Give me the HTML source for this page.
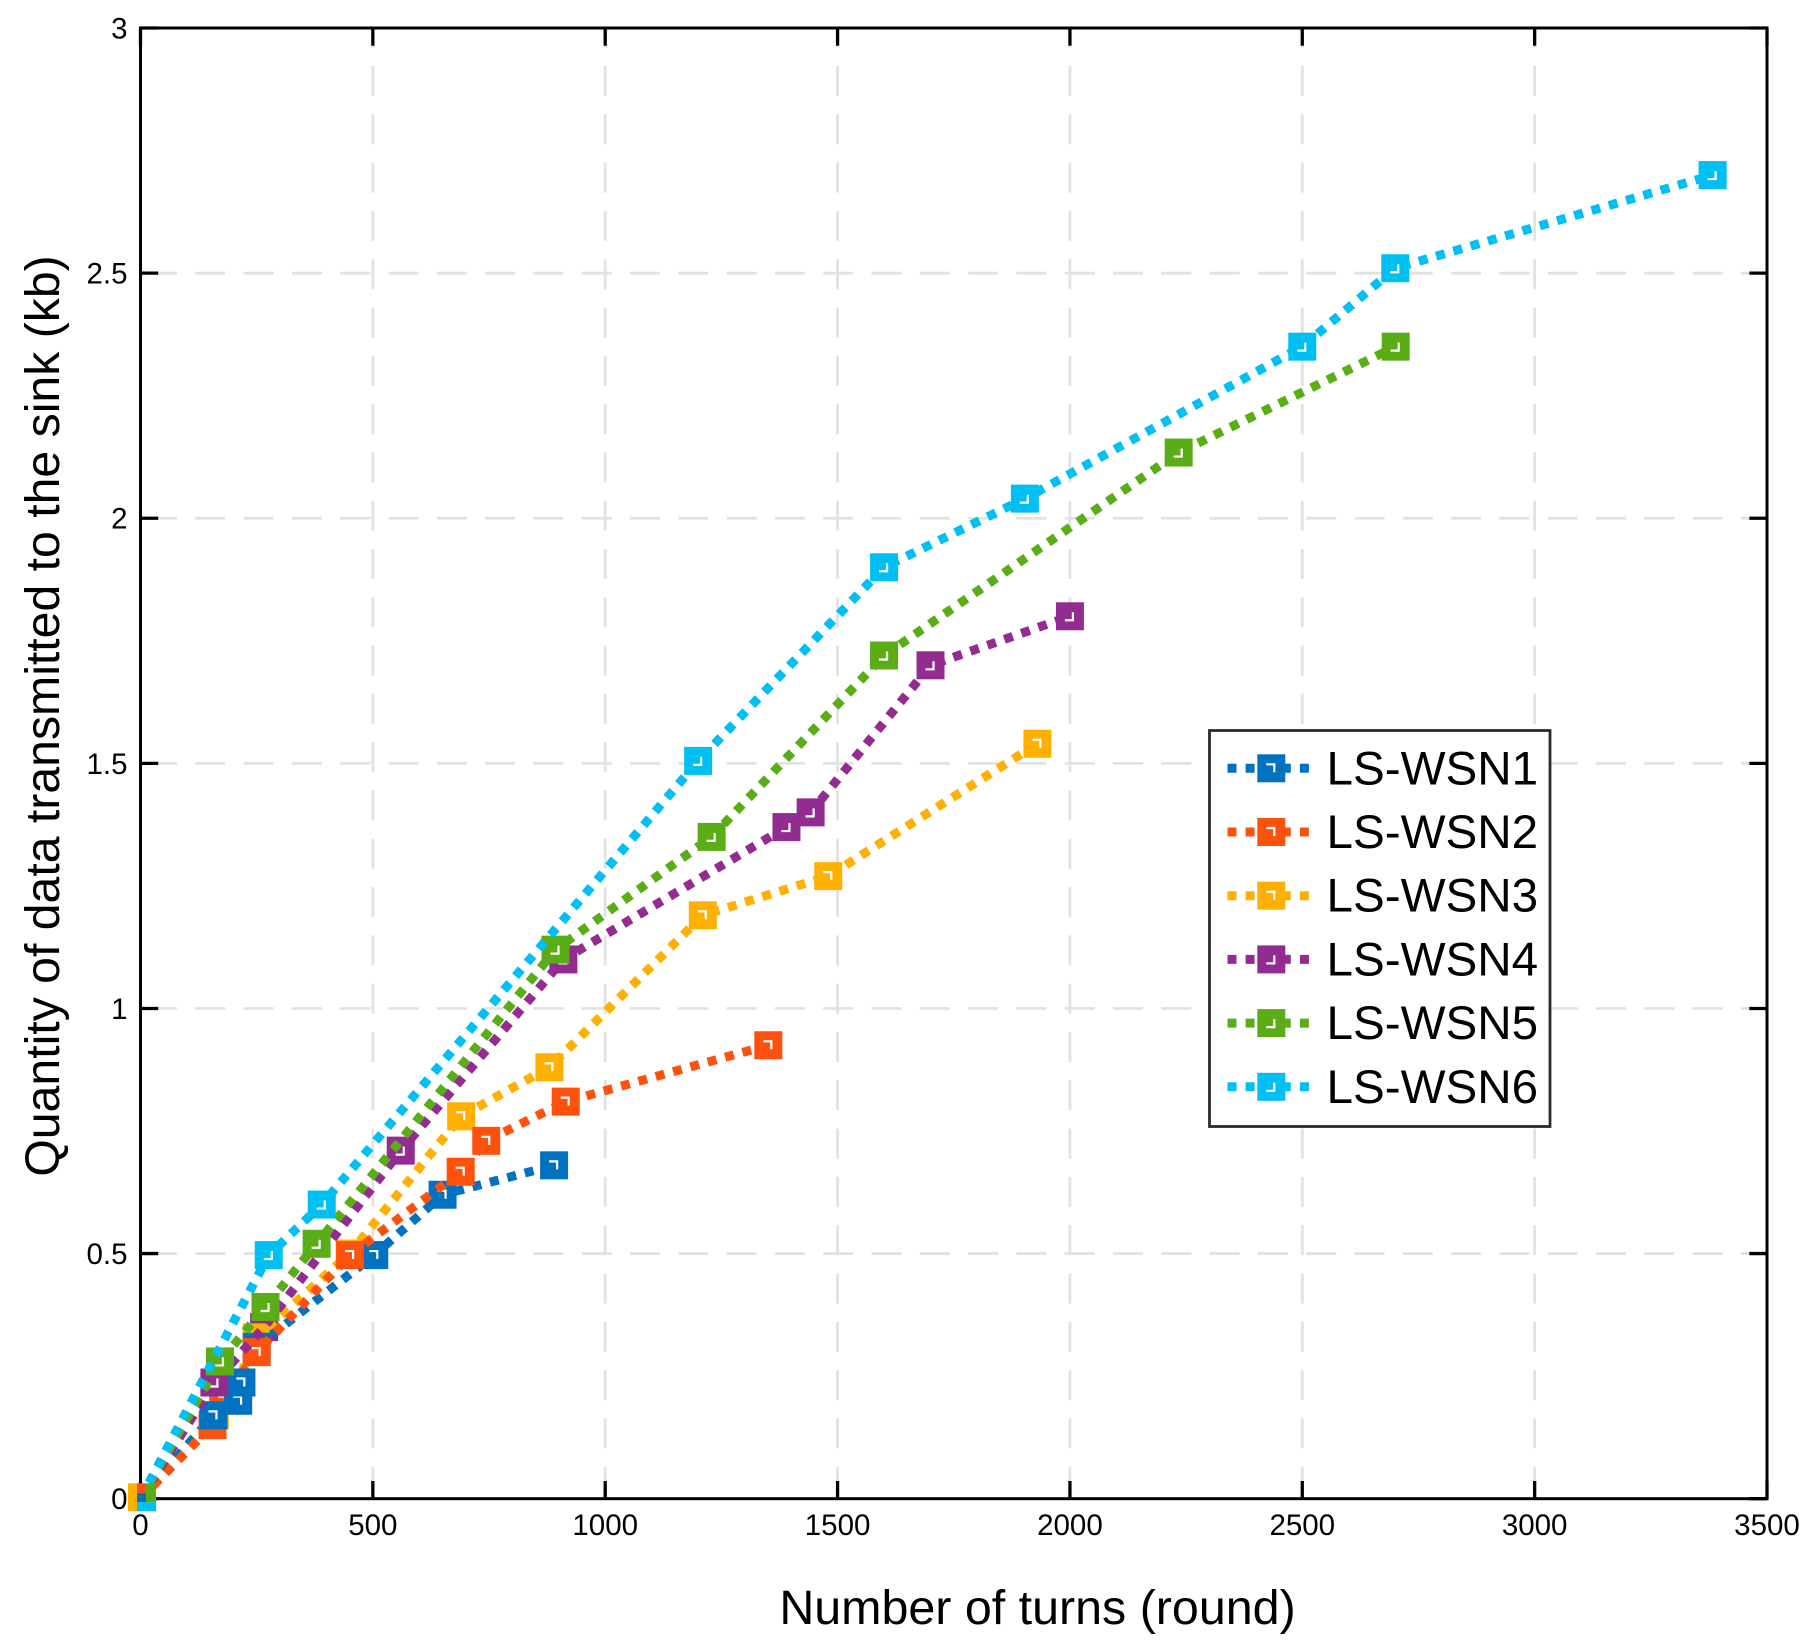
<!DOCTYPE html>
<html lang="en">
<head>
<meta charset="utf-8">
<title>Quantity of data transmitted to the sink</title>
<style>
html,body{margin:0;padding:0;background:#fff;}
svg{display:block;font-family:"Liberation Sans",Arial,sans-serif;}
</style>
</head>
<body>
<svg id="chart" xmlns="http://www.w3.org/2000/svg" width="1809" height="1650" viewBox="0 0 1809 1650">
  <rect x="0" y="0" width="1809" height="1650" fill="#ffffff"/>
  <g id="grid"></g>
  <g id="axes"></g>
  <g id="series"></g>
  <g id="legend"></g>
  <text x="1037.5" y="1624" font-size="48.4" text-anchor="middle" fill="#000">Number of turns (round)</text>
  <text transform="translate(59,716) rotate(-90)" font-size="48.2" text-anchor="middle" fill="#000">Quantity of data transmitted to the sink (kb)</text>
</svg>
<script>
var xTicks = [0, 500, 1000, 1500, 2000, 2500, 3000, 3500];
var yTicks = [0, 0.5, 1, 1.5, 2, 2.5, 3];
var seriesNames = ['LS-WSN1', 'LS-WSN2', 'LS-WSN3', 'LS-WSN4', 'LS-WSN5', 'LS-WSN6'];
var seriesColors = ['#0072bf', '#fd520e', '#ffb000', '#922c90', '#5bad18', '#00bff2'];

var wsn1X = [0, 157, 210, 217, 250, 503, 650, 890];
var wsn1Y = [0, 0.17, 0.2, 0.237, 0.31, 0.497, 0.62, 0.68];
var wsn2X = [0, 155, 178, 250, 451, 689, 744, 915, 1351];
var wsn2Y = [0, 0.15, 0.2, 0.299, 0.497, 0.667, 0.73, 0.81, 0.925];
var wsn3X = [0, 160, 200, 250, 450, 690, 880, 1210, 1480, 1930];
var wsn3Y = [0, 0.17, 0.22, 0.329, 0.5, 0.78, 0.88, 1.19, 1.27, 1.54];
var wsn4X = [0, 159, 266, 560, 910, 1390, 1442, 1700, 2000];
var wsn4Y = [0, 0.237, 0.35, 0.71, 1.1, 1.37, 1.4, 1.7, 1.8];
var wsn5X = [0, 171, 269, 379, 893, 1229, 1600, 2234, 2701];
var wsn5Y = [0, 0.28, 0.391, 0.52, 1.12, 1.35, 1.72, 2.134, 2.35];
var wsn6X = [0, 276, 390, 1200, 1600, 1903, 2500, 2700, 3383];
var wsn6Y = [0, 0.497, 0.6, 1.505, 1.9, 2.04, 2.35, 2.51, 2.7];

var xSeries = [wsn1X, wsn2X, wsn3X, wsn4X, wsn5X, wsn6X];
var ySeries = [wsn1Y, wsn2Y, wsn3Y, wsn4Y, wsn5Y, wsn6Y];

var NS = 'http://www.w3.org/2000/svg';
var plotLeft = 140.5, plotRight = 1767, plotTop = 28, plotBottom = 1498.7;
var xMax = 3500, yMax = 3;
var markerSize = 28, tickLength = 17.7;

function sx(v) { return plotLeft + v / xMax * (plotRight - plotLeft); }
function sy(v) { return plotBottom - v / yMax * (plotBottom - plotTop); }

function make(tag, attrs, parent) {
  var el = document.createElementNS(NS, tag);
  for (var k in attrs) { el.setAttribute(k, attrs[k]); }
  parent.appendChild(el);
  return el;
}

var gridLayer = document.getElementById('grid');
var axesLayer = document.getElementById('axes');
var seriesLayer = document.getElementById('series');
var legendLayer = document.getElementById('legend');

xTicks.forEach(function (t) {
  if (t === 0 || t === xMax) { return; }
  var line = make('line', {x1: sx(t), x2: sx(t), y1: plotBottom, y2: plotTop, stroke: '#e2e2e2', 'stroke-width': 2.8, 'stroke-dasharray': '30 18.3', 'stroke-dashoffset': -2}, gridLayer);
  
  
});
yTicks.forEach(function (t) {
  if (t === 0 || t === yMax) { return; }
  var line = make('line', {x1: plotLeft, x2: plotRight, y1: sy(t), y2: sy(t), stroke: '#e2e2e2', 'stroke-width': 2.8, 'stroke-dasharray': '30 18.3', 'stroke-dashoffset': -6.5}, gridLayer);
  
  
});

var frame = make('rect', {x: plotLeft, y: plotTop, width: plotRight - plotLeft, height: plotBottom - plotTop, fill: 'none', stroke: '#000', 'stroke-width': 3}, axesLayer);



xTicks.forEach(function (t) {
  var b = make('line', {x1: sx(t), x2: sx(t), y1: plotBottom, y2: plotBottom - tickLength, stroke: '#000', 'stroke-width': 3.3}, axesLayer);
  
  
  var u = make('line', {x1: sx(t), x2: sx(t), y1: plotTop, y2: plotTop + tickLength, stroke: '#000', 'stroke-width': 3.3}, axesLayer);
  
  
  var label = make('text', {x: sx(t), y: 1535, 'font-size': 29.5, 'text-anchor': 'middle', fill: '#000'}, axesLayer);
  label.textContent = String(t);
  
  
});
yTicks.forEach(function (t) {
  var l = make('line', {x1: plotLeft, x2: plotLeft + tickLength, y1: sy(t), y2: sy(t), stroke: '#000', 'stroke-width': 3.3}, axesLayer);
  
  
  var r = make('line', {x1: plotRight, x2: plotRight - tickLength, y1: sy(t), y2: sy(t), stroke: '#000', 'stroke-width': 3.3}, axesLayer);
  
  
  var label = make('text', {x: 127.5, y: sy(t) + 10.5, 'font-size': 29.5, 'text-anchor': 'end', fill: '#000'}, axesLayer);
  label.textContent = String(t);
  
  
});

function drawMarker(cx, cy, color, idx, parent) {
  var s = markerSize;
  var square = make('rect', {x: cx - s / 2, y: cy - s / 2, width: s, height: s, fill: color}, parent);
  
  
  var d = idx < 3
    ? 'M' + (cx - 5) + ' ' + (cy - 4) + 'h8v8'
    : 'M' + (cx - 5) + ' ' + (cy + 4) + 'h8v-8';
  var hole = make('path', {d: d, fill: 'none', stroke: '#fff', 'stroke-width': 2.2}, parent);
  
  
}

function drawLine(i) {
  var pts = xSeries[i].map(function (x, j) { return sx(x) + ',' + sy(ySeries[i][j]); }).join(' ');
  var line = make('polyline', {points: pts, fill: 'none', stroke: seriesColors[i], 'stroke-width': 9, 'stroke-dasharray': '9 9'}, seriesLayer);
  
  
}

function drawPoints(i, from, to) {
  for (var j = from; j <= to && j < xSeries[i].length; j++) {
    if (j === 0) { continue; }
    drawMarker(sx(xSeries[i][j]), sy(ySeries[i][j]), seriesColors[i], i, seriesLayer);
  }
}

/* stacking seen in the crowded low-value cluster */
drawPoints(3, 2, 2);
drawLine(2);
drawPoints(2, 1, 99);
drawLine(0);
drawPoints(0, 1, 99);
drawLine(1);
drawPoints(1, 1, 99);
drawPoints(0, 1, 3);
drawLine(3);
drawPoints(3, 1, 1);
drawPoints(3, 3, 99);
drawLine(4);
drawPoints(4, 1, 99);
drawLine(5);
drawPoints(5, 1, 99);

/* the overlapping first points at the origin show as a patchwork of each series' colour */
var originPieces = [[-5, -4, 9, 9], [-5, -14, 9, 10], [-14, -14, 9, 28], null, [4, -14, 10, 19], [-5, 5, 19, 9]];
xSeries.forEach(function (xs, i) {
  var piece = originPieces[i];
  if (!piece) { return; }
  var cx = sx(xs[0]) + 1.5, cy = sy(ySeries[i][0]) - 1.4;
  var rect = make('rect', {x: cx + piece[0], y: cy + piece[1], width: piece[2], height: piece[3], fill: seriesColors[i]}, seriesLayer);
  
  
});

var legendBox = make('rect', {x: 1209.5, y: 730.5, width: 340.5, height: 396, fill: '#fff', stroke: '#2b2b2b', 'stroke-width': 2.8}, legendLayer);



seriesNames.forEach(function (name, i) {
  var rowY = 768.3 + i * 63.7;
  var g = make('g', {}, legendLayer);
  
  
  var sample = make('line', {x1: 1227.5, x2: 1309, y1: rowY, y2: rowY, stroke: seriesColors[i], 'stroke-width': 9, 'stroke-dasharray': '9 9.1'}, g);
  
  
  drawMarker(1271.3, rowY, seriesColors[i], i, g);
  var label = make('text', {x: 1326.5, y: rowY + 16, 'font-size': 47.6, fill: '#000'}, g);
  label.textContent = name;
  
  
});
</script>
</body>
</html>
